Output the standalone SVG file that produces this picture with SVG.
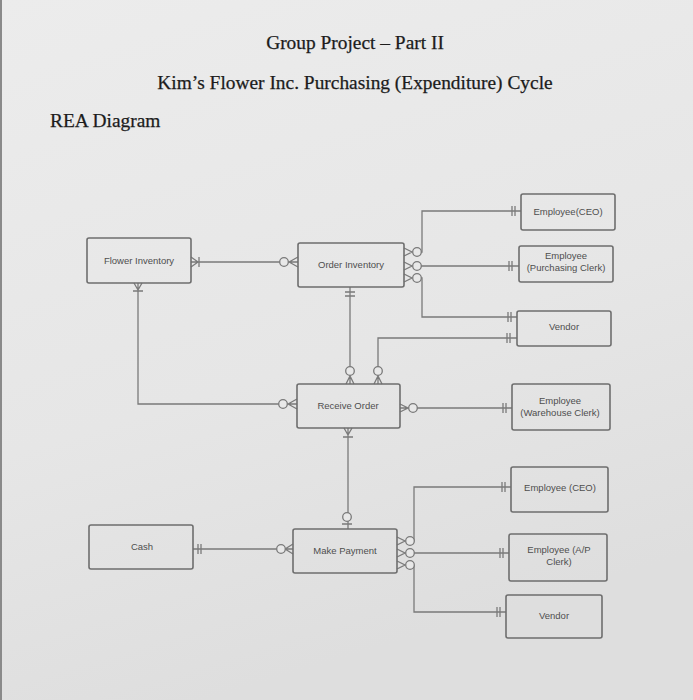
<svg xmlns="http://www.w3.org/2000/svg" width="693" height="700" viewBox="0 0 693 700">
<defs>
<linearGradient id="bg" x1="0" y1="0" x2="0.3" y2="1">
<stop offset="0" stop-color="#ececec"/>
<stop offset="0.6" stop-color="#e6e6e6"/>
<stop offset="1" stop-color="#dedede"/>
</linearGradient>
<style>
.box{fill:none;stroke:#6e6e6e;stroke-width:1.6}
.lbl{font-family:"Liberation Sans",Arial,sans-serif;font-size:9.5px;fill:#4e4e4e;text-anchor:middle}
.conn{fill:none;stroke:#7a7a7a;stroke-width:1.3}
.ring{fill:#e8e8e8;stroke:#7a7a7a;stroke-width:1.3}
.title{font-family:"Liberation Serif","Times New Roman",serif;font-size:19.4px;fill:#1c1c1c;stroke:#1c1c1c;stroke-width:0.25}
</style>
</defs>
<rect x="0" y="0" width="693" height="700" fill="url(#bg)"/>
<rect x="0" y="0" width="2" height="700" fill="#8a8a8a"/>

<text class="title" x="355" y="49" text-anchor="middle">Group Project – Part II</text>
<text class="title" x="355" y="89" text-anchor="middle">Kim’s Flower Inc. Purchasing (Expenditure) Cycle</text>
<text class="title" x="50" y="127">REA Diagram</text>

<g id="connectors">
<!-- Flower Inventory - Order Inventory -->
<path class="conn" d="M191,262 H298 M191,257 L198,262 L191,267 M199,257 V267 M289,262 L298,257 M289,262 L298,267"/>
<circle class="ring" cx="284" cy="262" r="4.3"/>
<!-- Order Inventory right -->
<path class="conn" d="M404,248 L412,252 L404,256 M404,262 L412,266 L404,270 M404,274 L412,278 L404,282"/>
<path class="conn" d="M421,252 H422 V211 H521 M512,206 V216 M515,206 V216"/>
<path class="conn" d="M421,266 H519 M509,261 V271 M512,261 V271"/>
<path class="conn" d="M421,278 H422 V317 H517 M508,312 V322 M511,312 V322"/>
<circle class="ring" cx="417" cy="252" r="4.3"/>
<circle class="ring" cx="417" cy="266" r="4.3"/>
<circle class="ring" cx="417" cy="278" r="4.3"/>
<!-- Receive Order top-right to Vendor -->
<path class="conn" d="M378,384 V338 H517 M507,333 V343 M510,333 V343 M374,384 L378,376 L382,384"/>
<circle class="ring" cx="378" cy="371" r="4.3"/>
<!-- Order Inventory - Receive Order -->
<path class="conn" d="M350,287 V384 M345,292 H355 M345,296 H355 M346,384 L350,376 L354,384"/>
<circle class="ring" cx="350" cy="371" r="4.3"/>
<!-- Flower Inventory - Receive Order -->
<path class="conn" d="M138,283 V404 H297 M134,283 L138,290 L142,283 M133,291 H143 M288,404 L297,399 M288,404 L297,409"/>
<circle class="ring" cx="283" cy="404" r="4.3"/>
<!-- Receive Order - Warehouse Clerk -->
<path class="conn" d="M400,408 H512 M400,404 L408,408 L400,412 M503,403 V413 M506,403 V413"/>
<circle class="ring" cx="413" cy="408" r="4.3"/>
<!-- Receive Order - Make Payment -->
<path class="conn" d="M348,428 V529 M344,428 L348,435 L352,428 M343,437 H353 M342,524 H352"/>
<circle class="ring" cx="347" cy="517" r="4.3"/>
<!-- Cash - Make Payment -->
<path class="conn" d="M193,549 H293 M198,544 V554 M201,544 V554 M285,549 L293,544 M285,549 L293,554"/>
<circle class="ring" cx="281" cy="549" r="4.3"/>
<!-- Make Payment right -->
<path class="conn" d="M397,537 L405,541 L397,545 M397,549 L405,553 L397,557 M397,561 L405,565 L397,569"/>
<path class="conn" d="M414,541 V487 H511 M502,482 V492 M505,482 V492"/>
<path class="conn" d="M414,553 H509 M500,548 V558 M503,548 V558"/>
<path class="conn" d="M414,565 V612 H506 M497,607 V617 M500,607 V617"/>
<circle class="ring" cx="410" cy="541" r="4.3"/>
<circle class="ring" cx="410" cy="553" r="4.3"/>
<circle class="ring" cx="410" cy="565" r="4.3"/>
</g>

<g id="flower-inventory"><rect class="box" x="87" y="238" width="104" height="45" rx="2"/><text class="lbl" x="139" y="264">Flower Inventory</text></g>
<g id="order-inventory"><rect class="box" x="298" y="243" width="106" height="44" rx="2"/><text class="lbl" x="351" y="268">Order Inventory</text></g>
<g id="employee-ceo-1"><rect class="box" x="521" y="194" width="94" height="36" rx="2"/><text class="lbl" x="568" y="215">Employee(CEO)</text></g>
<g id="employee-purchasing"><rect class="box" x="519" y="246" width="94" height="36" rx="2"/><text class="lbl" x="566" y="259">Employee</text><text class="lbl" x="566" y="271">(Purchasing Clerk)</text></g>
<g id="vendor-1"><rect class="box" x="517" y="311" width="94" height="35" rx="2"/><text class="lbl" x="564" y="330">Vendor</text></g>
<g id="receive-order"><rect class="box" x="297" y="384" width="103" height="44" rx="2"/><text class="lbl" x="348" y="409">Receive Order</text></g>
<g id="employee-warehouse"><rect class="box" x="512" y="384" width="98" height="46" rx="2"/><text class="lbl" x="560" y="404">Employee</text><text class="lbl" x="560" y="416">(Warehouse Clerk)</text></g>
<g id="employee-ceo-2"><rect class="box" x="511" y="467" width="97" height="45" rx="2"/><text class="lbl" x="560" y="491">Employee (CEO)</text></g>
<g id="cash"><rect class="box" x="89" y="525" width="104" height="44" rx="2"/><text class="lbl" x="142" y="550">Cash</text></g>
<g id="make-payment"><rect class="box" x="293" y="529" width="104" height="44" rx="2"/><text class="lbl" x="345" y="554">Make Payment</text></g>
<g id="employee-ap"><rect class="box" x="509" y="534" width="98" height="47" rx="2"/><text class="lbl" x="559" y="553">Employee (A/P</text><text class="lbl" x="559" y="565">Clerk)</text></g>
<g id="vendor-2"><rect class="box" x="506" y="595" width="96" height="43" rx="2"/><text class="lbl" x="554" y="619">Vendor</text></g>
</svg>
